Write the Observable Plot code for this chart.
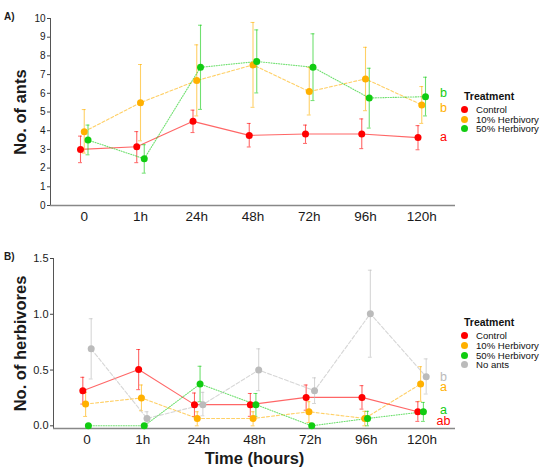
<!DOCTYPE html>
<html>
<head>
<meta charset="utf-8">
<script src="https://cdn.jsdelivr.net/npm/d3@7"></script>
<script src="https://cdn.jsdelivr.net/npm/@observablehq/plot@0.6"></script>
<style>
body { margin: 0; background: #fff; font-family: "Liberation Sans", Arial, sans-serif; }
#wrap { position: relative; width: 550px; height: 476px; }
.lg { position: absolute; white-space: nowrap; color: #111; }
.dot { position: absolute; width: 7px; height: 7px; border-radius: 50%; }
</style>
</head>
<body>
<div id="wrap"></div>
<script>
// time points on the x axis
const times = ["0", "1h", "24h", "48h", "72h", "96h", "120h"]

// panel A: number of ants (mean, lower and upper error)
const treatmentsA = ["Control", "10% Herbivory", "50% Herbivory"]
const antsControl   = [3.00, 3.14, 4.50, 3.75, 3.82, 3.82, 3.63]
const antsControlLo = [2.29, 2.29, 3.90, 3.13, 3.32, 3.04, 2.98]
const antsControlHi = [3.71, 3.95, 5.10, 4.39, 4.30, 4.63, 4.27]
const ants10   = [3.95, 5.50, 6.68, 7.52, 6.09, 6.77, 5.38]
const ants10Lo = [2.80, 3.46, 4.79, 5.25, 4.84, 5.07, 4.39]
const ants10Hi = [5.13, 7.54, 8.59, 9.79, 7.39, 8.46, 6.36]
const ants50   = [3.50, 2.50, 7.39, 7.70, 7.39, 5.75, 5.82]
const ants50Lo = [2.71, 1.73, 5.14, 6.02, 5.61, 4.14, 4.79]
const ants50Hi = [4.30, 3.25, 9.64, 9.39, 9.18, 7.34, 6.86]
const lettersA = ["a", "b", "b"]
const letterAtA = [3.64, 5.19, 5.99]

// panel B: number of herbivores
const treatmentsB = ["Control", "10% Herbivory", "50% Herbivory", "No ants"]
const herbControl   = [0.315, 0.505, 0.19, 0.19, 0.255, 0.255, 0.126]
const herbControlLo = [0.195, 0.324, 0.084, 0.085, 0.14, 0.15, 0.04]
const herbControlHi = [0.435, 0.684, 0.294, 0.29, 0.366, 0.36, 0.216]
const herb10   = [0.195, 0.25, 0.066, 0.066, 0.126, 0.066, 0.375]
const herb10Lo = [0.084, 0.135, 0.0, 0.0, 0.03, 0.0, 0.22]
const herb10Hi = [0.30, 0.366, 0.126, 0.126, 0.216, 0.13, 0.53]
const herb50   = [0.0, 0.0, 0.375, 0.19, 0.0, 0.066, 0.126]
const herb50Lo = [0.0, 0.0, 0.216, 0.085, 0.0, 0.0, 0.04]
const herb50Hi = [0.0, 0.0, 0.534, 0.29, 0.0, 0.13, 0.21]
const herbNone   = [0.69, 0.066, 0.19, 0.50, 0.315, 1.005, 0.44]
const herbNoneLo = [0.42, 0.0, 0.09, 0.315, 0.20, 0.615, 0.285]
const herbNoneHi = [0.96, 0.126, 0.30, 0.69, 0.43, 1.395, 0.60]
const lettersB = ["ab", "a", "a", "b"]
const letterAtB = [0.045, 0.345, 0.144, 0.44]

const colors = {"Control": "#ff0000", "10% Herbivory": "#ffb000", "50% Herbivory": "#11cc11", "No ants": "#bbbbbb"}
const dashes = {"Control": null, "10% Herbivory": "3,2", "50% Herbivory": "1,1.5", "No ants": "4,2"}
const font = "'Liberation Sans', Arial, sans-serif"

// ggplot-like dodge: width 0.2 shared by the groups
function buildRows(names, means, los, his) {
  const out = []
  const n = names.length
  names.forEach((name, k) => {
    const off = (k - (n - 1) / 2) * 0.2 / n
    means[k].forEach((v, i) => {
      out.push({treatment: name, x: i + off, y: v, lo: los[k][i], hi: his[k][i]})
    })
  })
  return out
}

function seriesMarks(rows, names) {
  const marks = []
  names.forEach(name => {
    const d = rows.filter(r => r.treatment == name)
    const c = colors[name]
    marks.push(
      Plot.line(d, {x: "x", y: "y", stroke: c, strokeOpacity: 0.6, strokeWidth: 1.1, strokeDasharray: dashes[name]}),
      Plot.ruleX(d, {x: "x", y1: "lo", y2: "hi", stroke: c, strokeOpacity: 0.6, strokeWidth: 1.1}),
      Plot.ruleY(d, {y: "lo", x1: r => r.x - 0.035, x2: r => r.x + 0.035, stroke: c, strokeOpacity: 0.6}),
      Plot.ruleY(d, {y: "hi", x1: r => r.x - 0.035, x2: r => r.x + 0.035, stroke: c, strokeOpacity: 0.6})
    )
  })
  names.forEach(name => {
    const d = rows.filter(r => r.treatment == name)
    marks.push(Plot.dot(d, {x: "x", y: "y", r: 3.5, fill: colors[name]}))
  })
  return marks
}

function panel({names, rows, letters, letterAt, yDomain, yTicks, yFmt, yFont, yLabel, tag, height, marginBottom, marginLeft, xLabel}) {
  const last = times.length - 1
  return Plot.plot({
    width: 550,
    height: height,
    marginTop: 18,
    marginBottom: marginBottom,
    marginLeft: marginLeft,
    marginRight: 95,
    style: {fontFamily: font, background: "white", color: "#1a1a1a"},
    x: {domain: [-0.6, 6.6]},
    y: {domain: yDomain},
    marks: [
      Plot.ruleX([-0.6], {stroke: "#555"}),
      Plot.ruleY([yDomain[0]], {stroke: "#888", strokeWidth: 1.6}),
      Plot.axisY(yTicks, {tickSize: 3, tickPadding: 2, fontSize: yFont, tickFormat: yFmt, stroke: "#444", label: null}),
      Plot.axisX(d3.range(times.length), {tickSize: 0, tickPadding: 6, fontSize: 13.5, tickFormat: i => times[i], label: null}),
      ...seriesMarks(rows, names),
      Plot.text(names, {x: () => last + 0.385, y: (d, i) => letterAt[i], text: (d, i) => letters[i], fill: d => colors[d], fontSize: 12.5}),
      Plot.text([yLabel], {frameAnchor: "left", dx: 20 - marginLeft, rotate: -90, textAnchor: "middle", lineAnchor: "middle", fontSize: 16.5, fontWeight: "bold"}),
      Plot.text([tag], {frameAnchor: "top-left", dx: 3.5 - marginLeft, dy: -6, textAnchor: "start", fontSize: 10, fontWeight: "bold"}),
      xLabel ? Plot.text([xLabel], {frameAnchor: "bottom", dy: 30.5, textAnchor: "middle", lineAnchor: "middle", fontSize: 16.5, fontWeight: "bold"}) : null
    ]
  })
}

const wrap = d3.select("#wrap")

const rowsA = buildRows(treatmentsA, [antsControl, ants10, ants50], [antsControlLo, ants10Lo, ants50Lo], [antsControlHi, ants10Hi, ants50Hi])
const chartA = panel({
  names: treatmentsA, rows: rowsA, letters: lettersA, letterAt: letterAtA,
  yDomain: [0, 10], yTicks: d3.range(0, 11), yFmt: d => d, yFont: 10,
  yLabel: "No. of ants", tag: "A)", height: 240, marginBottom: 35, marginLeft: 50
})

const rowsB = buildRows(treatmentsB, [herbControl, herb10, herb50, herbNone], [herbControlLo, herb10Lo, herb50Lo, herbNoneLo], [herbControlHi, herb10Hi, herb50Hi, herbNoneHi])
const chartB = panel({
  names: treatmentsB, rows: rowsB, letters: lettersB, letterAt: letterAtB,
  yDomain: [-0.024, 1.5], yTicks: [0, 0.5, 1, 1.5], yFmt: d3.format(".1f"), yFont: 11,
  yLabel: "No. of herbivores", tag: "B)", height: 236, marginBottom: 48, marginLeft: 53,
  xLabel: "Time (hours)"
})

wrap.append(() => chartA)
wrap.append(() => chartB)
wrap.selectAll("svg").style("display", "block")

// legends to the right of each panel
function legend(titleY, firstY, names) {
  wrap.append("div").attr("class", "lg")
    .style("left", "464px").style("top", (titleY - 6) + "px")
    .style("font-size", "10.5px").style("font-weight", "bold").style("line-height", "12px")
    .text("Treatment")
  names.forEach((name, i) => {
    const cy = firstY + i * 9.7
    wrap.append("div").attr("class", "dot")
      .style("left", "461px").style("top", (cy - 3.5) + "px")
      .style("background", colors[name])
    wrap.append("div").attr("class", "lg")
      .style("left", "476px").style("top", (cy - 5.5) + "px")
      .style("font-size", "9.6px").style("line-height", "11px")
      .text(name)
  })
}
legend(96, 109.3, treatmentsA)
legend(322, 335.7, treatmentsB)
</script>
</body>
</html>
